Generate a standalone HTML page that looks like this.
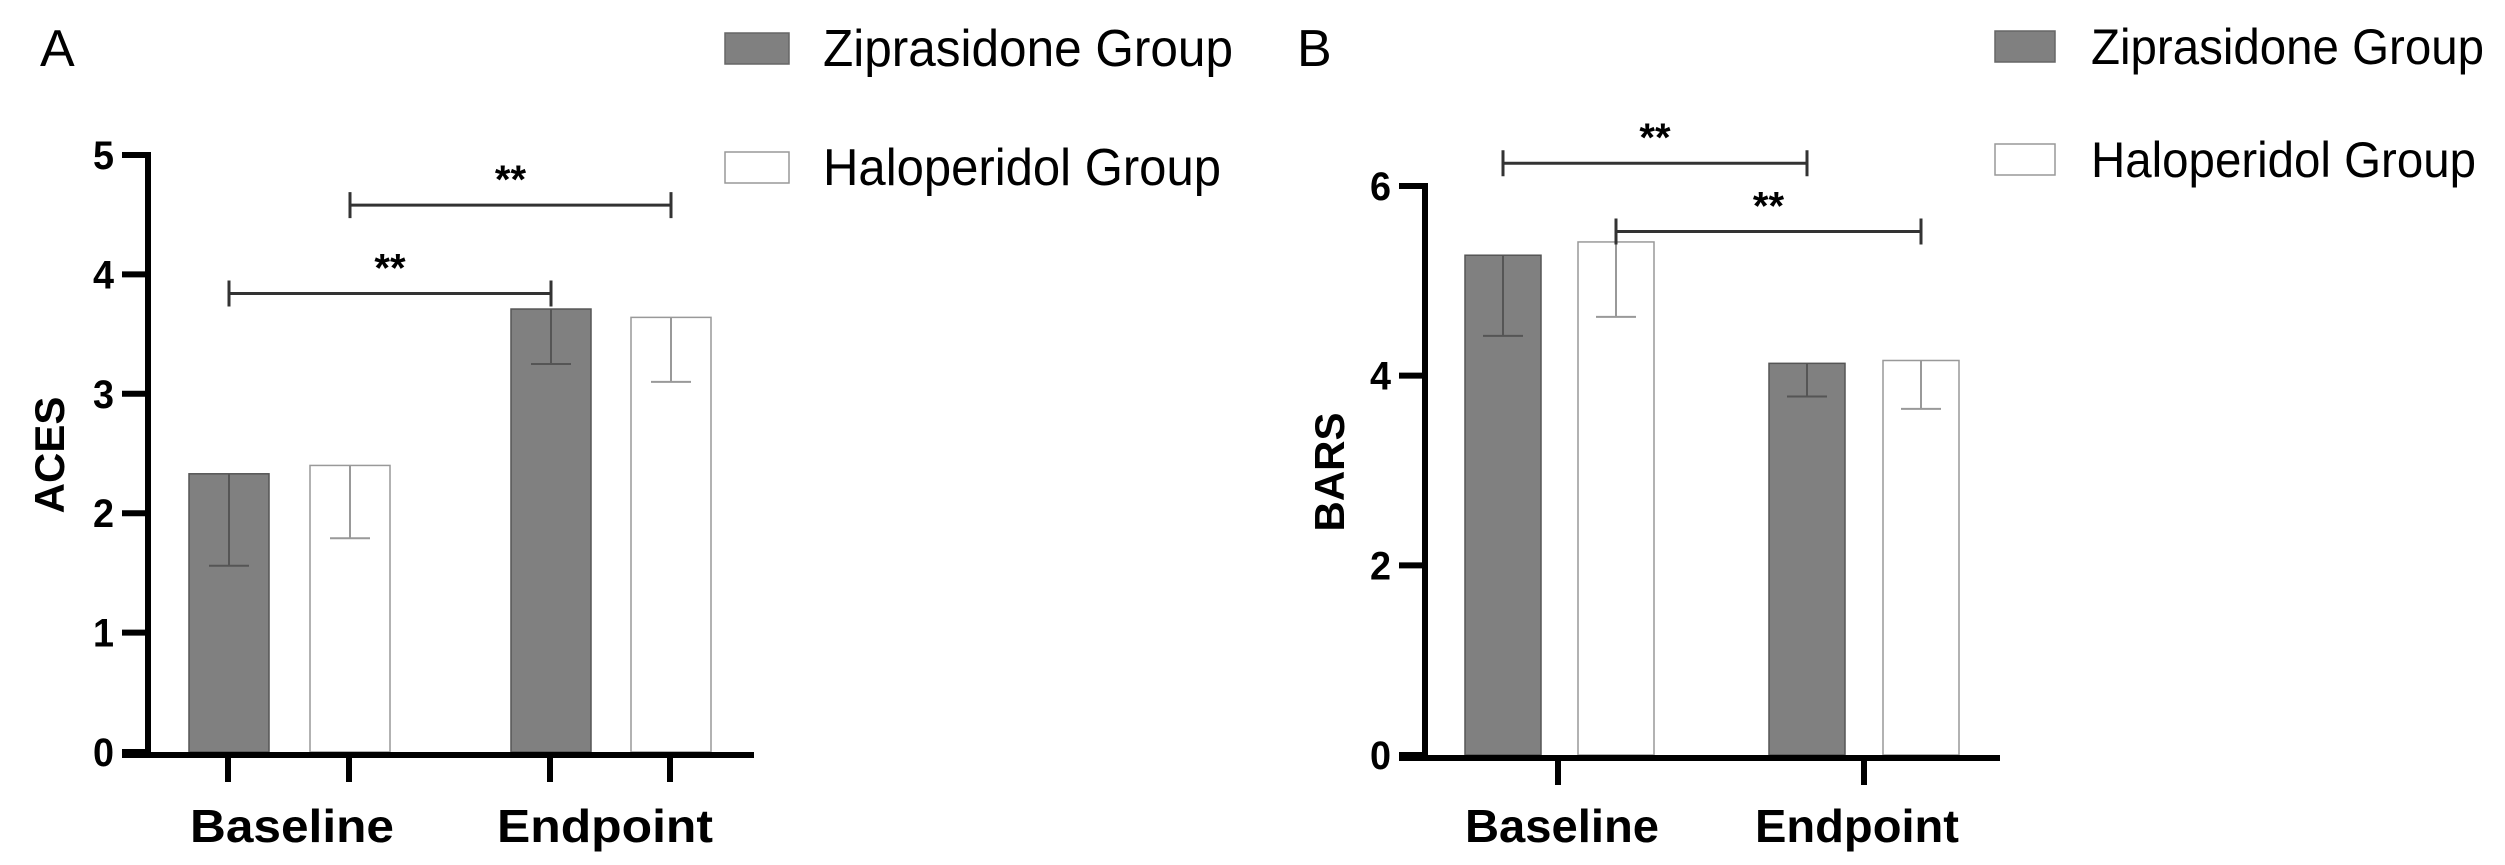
<!DOCTYPE html>
<html><head><meta charset="utf-8"><style>
html,body{margin:0;padding:0;background:#fff;}
svg{display:block;}
text{font-family:"Liberation Sans Narrow","Liberation Sans",sans-serif;}
</style></head><body>
<svg id="fig" width="2505" height="865" viewBox="0 0 2505 865" xmlns="http://www.w3.org/2000/svg"></svg>
<script>
const groups = ["Baseline", "Endpoint"];
const seriesNames = ["Ziprasidone Group", "Haloperidol Group"];
const acesMeans = [[2.33, 3.71], [2.40, 3.64]];
const acesLower = [[1.56, 3.25], [1.79, 3.10]];
const acesTicks = [0, 1, 2, 3, 4, 5];
const barsMeans = [[5.27, 4.13], [5.41, 4.16]];
const barsLower = [[4.42, 3.78], [4.62, 3.65]];
const barsTicks = [0, 2, 4, 6];
// [series1, group1, series2, group2, height]
const acesSig = [[0, 0, 0, 1, 3.84], [1, 0, 1, 1, 4.58]];
const barsSig = [[0, 0, 0, 1, 6.24], [1, 0, 1, 1, 5.52]];

const NS = "http://www.w3.org/2000/svg";
const svg = document.getElementById('fig');
function mk(tag, attrs, parent, txt) {
  const e = document.createElementNS(NS, tag);
  for (const k in attrs) e.setAttribute(k, attrs[k]);
  if (txt !== undefined) e.textContent = txt;
  (parent || svg).appendChild(e);
  return e;
}

function panel(cfg) {
  const g = mk('g', {});
  
  
  const y = v => cfg.y0 - (v - cfg.ymin) / (cfg.ymax - cfg.ymin) * (cfg.y0 - cfg.ytop);
  const L = mk('text', {x: cfg.letterX, y: 66, 'font-size': 52, fill: '#000', style: 'font-family:"Liberation Sans",sans-serif'}, g, cfg.letter);
  
  
  for (let s = 0; s < 2; s++) {
    for (let c = 0; c < 2; c++) {
      const x0 = cfg.barX[c][s];
      const top = y(cfg.means[s][c]);
      const r = mk('rect', {x: x0, y: top, width: cfg.barW, height: cfg.y0 - top,
        fill: s === 0 ? '#808080' : '#fff', stroke: s === 0 ? '#555' : '#999', 'stroke-width': 1.5}, g);
      
      
      const cx = x0 + cfg.barW / 2;
      const lo = y(cfg.lower[s][c]);
      const eb = mk('path', {d: `M${cx},${top} V${lo} M${cx - 20},${lo} H${cx + 20}`, stroke: s === 0 ? '#555' : '#999', 'stroke-width': 2, fill: 'none'}, g);
      
      
    }
  }
  const ax = mk('path', {d: `M${cfg.axX},${cfg.ytop - 3} V${cfg.y0 + 6}`, stroke: '#000', 'stroke-width': 6}, g);
  
  
  cfg.ticks.forEach(t => {
    const ty = y(t);
    const tk = mk('path', {d: `M${cfg.axX - 26},${ty} H${cfg.axX}`, stroke: '#000', 'stroke-width': 6}, g);
    
    
    const tl = mk('text', {x: cfg.axX - 34, y: ty + 14, 'font-size': 40, 'font-weight': 'bold', 'text-anchor': 'end', textLength: 21, lengthAdjust: 'spacingAndGlyphs'}, g, String(t));
    
    
  });
  const xa = mk('path', {d: `M${cfg.axX - 26},${cfg.y0 + 3} H${cfg.xEnd}`, stroke: '#000', 'stroke-width': 6}, g);
  
  
  cfg.xTicks.forEach(tx => {
    const tk = mk('path', {d: `M${tx},${cfg.y0 + 3} V${cfg.y0 + 30}`, stroke: '#000', 'stroke-width': 6}, g);
    
    
  });
  groups.forEach((gn, i) => {
    const t = mk('text', {x: cfg.labX[i][0], y: 842, 'font-size': 46, 'font-weight': 'bold', textLength: cfg.labX[i][1], lengthAdjust: 'spacingAndGlyphs'}, g, gn);
    
    
  });
  const yt = mk('text', {x: 0, y: 0, 'font-size': 42, 'font-weight': 'bold', 'text-anchor': 'middle', style: 'font-family:"Liberation Sans",sans-serif',
    transform: `translate(${cfg.titleX},${cfg.titleY}) rotate(-90)`}, g, cfg.title);
  
  
  cfg.sig.forEach(sg => {
    const xa1 = cfg.barX[sg[1]][sg[0]] + cfg.barW / 2;
    const xa2 = cfg.barX[sg[3]][sg[2]] + cfg.barW / 2;
    const sy = y(sg[4]);
    const p = mk('path', {d: `M${xa1},${sy - 13} V${sy + 13} M${xa1},${sy} H${xa2} M${xa2},${sy - 13} V${sy + 13}`, stroke: '#333', 'stroke-width': 3, fill: 'none'}, g);
    
    
    const st = mk('text', {x: (xa1 + xa2) / 2, y: sy - 12, 'font-size': 40, 'font-weight': 'bold', 'text-anchor': 'middle', style: 'font-family:"Liberation Sans",sans-serif'}, g, '**');
    
    
  });
  seriesNames.forEach((n, i) => {
    const ly = cfg.legY[i];
    const lr = mk('rect', {x: cfg.legX, y: ly, width: cfg.legW, height: 31, fill: i === 0 ? '#808080' : '#fff', stroke: i === 0 ? '#666' : '#999', 'stroke-width': 1.5}, g);
    
    
    const lt = mk('text', {x: cfg.legTX, y: ly + 33, 'font-size': cfg.legFont, textLength: cfg.legLen[i], lengthAdjust: 'spacingAndGlyphs'}, g, n);
    
    
  });
}

panel({name: 'panel-a-aces', letter: 'A', letterX: 40, ymin: 0, ymax: 5, y0: 752, ytop: 155, axX: 148, xEnd: 754,
  barW: 80, barX: [[189, 310], [511, 631]], means: acesMeans, lower: acesLower, ticks: acesTicks,
  xTicks: [228, 349, 550, 670], labX: [[190, 204], [497, 216]], title: 'ACES', titleX: 64, titleY: 455,
  sig: acesSig, legX: 725, legW: 64, legY: [33, 152], legTX: 823, legFont: 52, legLen: [410, 398]});
panel({name: 'panel-b-bars', letter: 'B', letterX: 1297, ymin: 0, ymax: 6, y0: 755, ytop: 186, axX: 1425, xEnd: 2000,
  barW: 76, barX: [[1465, 1578], [1769, 1883]], means: barsMeans, lower: barsLower, ticks: barsTicks,
  xTicks: [1558, 1864], labX: [[1465, 194], [1755, 204]], title: 'BARS', titleX: 1344, titleY: 472,
  sig: barsSig, legX: 1995, legW: 60, legY: [31, 144], legTX: 2091, legFont: 50, legLen: [393, 385]});
</script>
</body></html>
